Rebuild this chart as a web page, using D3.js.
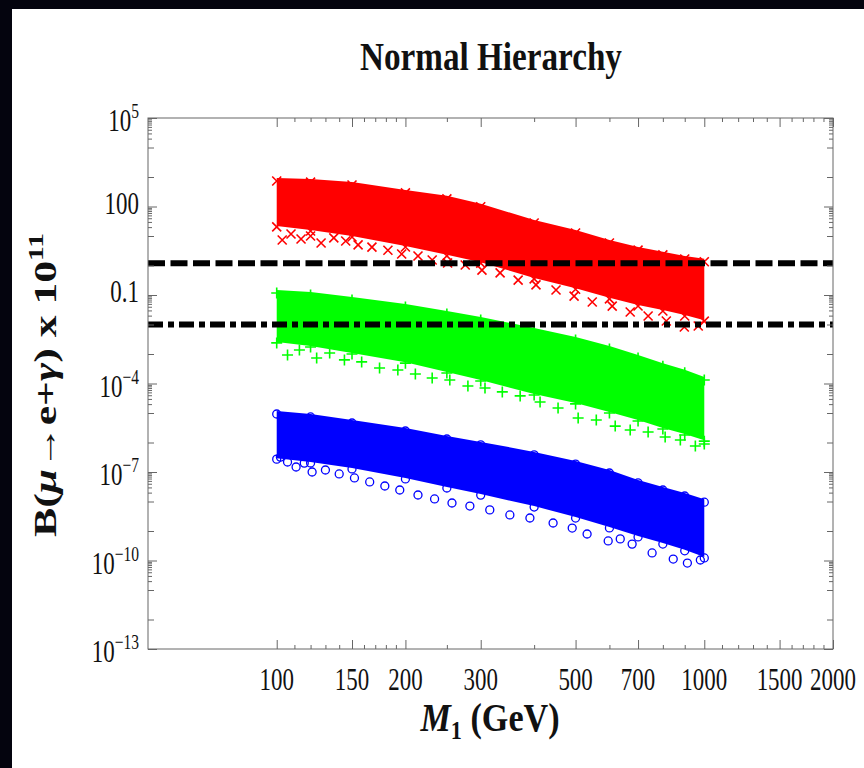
<!DOCTYPE html>
<html>
<head>
<meta charset="utf-8">
<script src="https://cdnjs.cloudflare.com/ajax/libs/d3/7.8.5/d3.min.js"></script>
<style>
  html, body { margin:0; background:#fff; overflow:hidden; }
  svg { display:block; }
  text { font-family:"Liberation Serif","Times New Roman",serif; fill:#111; }
</style>
</head>
<body>
<div id="chart"></div>
<script>
// masses (GeV) where the edges of each scan band were read
var massGrid = [100, 120, 150, 200, 250, 300, 400, 500, 600, 700, 800, 900, 1000];

// B(mu -> e gamma) x 10^11 : upper and lower edge of the dense band
var redUpper   = [925, 850, 675, 365, 230, 124, 35, 16, 7.3, 4.2, 2.9, 2.1, 1.7];
var redLower   = [22, 16, 10, 4.6, 2.3, 1.3, 0.38, 0.17, 0.08, 0.046, 0.031, 0.021, 0.014];
var greenUpper = [0.148, 0.126, 0.0855, 0.0495, 0.0288, 0.018, 0.0076, 0.0038, 0.00187, 9.3e-4, 4.9e-4, 2.9e-4, 1.66e-4];
var greenLower = [2.57e-3, 1.87e-3, 1.08e-3, 5.3e-4, 2.45e-4, 1.32e-4, 4.4e-5, 2.2e-5, 1.08e-5, 5.8e-6, 3.1e-6, 1.94e-6, 1.2e-6];
var blueUpper  = [1.17e-5, 9.3e-6, 5.8e-6, 3.1e-6, 1.66e-6, 1.05e-6, 4.8e-7, 2.35e-7, 1.17e-7, 5.4e-8, 3.1e-8, 1.94e-8, 1.2e-8];
var blueLower  = [2.95e-7, 2.18e-7, 1.37e-7, 6.3e-8, 3.1e-8, 1.78e-8, 7.0e-9, 2.97e-9, 1.37e-9, 6.8e-10, 3.9e-10, 2.3e-10, 1.32e-10];

// loose points hanging under each band
var redOutM   = [103, 108, 114, 120, 127, 136, 145, 155, 167, 182, 196, 214, 231, 251, 276, 302, 333, 367, 404, 450, 496, 547, 609, 671, 739, 815, 898, 968];
var redOutB   = [7.3, 11.7, 7.9, 10, 5.8, 8.6, 6.8, 5.0, 4.2, 3.3, 2.45, 2.1, 1.53, 1.22, 1.04, 0.70, 0.56, 0.32, 0.22, 0.148, 0.092, 0.058, 0.042, 0.0265, 0.0194, 0.0132, 0.0082, 0.0089];
var greenOutM = [106, 113, 124, 133, 144, 158, 174, 192, 211, 231, 254, 280, 307, 337, 371, 413, 455, 507, 559, 619, 671, 739, 810, 879, 953, 1000];
var greenOutB = [9.2e-4, 1.37e-3, 7.3e-4, 1.08e-3, 6.3e-4, 5.4e-4, 3.35e-4, 2.87e-4, 2.1e-4, 1.53e-4, 1.32e-4, 8.2e-5, 7.0e-5, 5.2e-5, 3.8e-5, 2.36e-5, 1.48e-5, 6.8e-6, 5.8e-6, 3.6e-6, 2.65e-6, 2.27e-6, 1.53e-6, 1.22e-6, 7.6e-7, 8.9e-7];
var blueOutM  = [102, 106, 111, 116, 121, 130, 140, 152, 165, 179, 194, 214, 234, 257, 283, 315, 351, 391, 443, 491, 532, 596, 636, 678, 755, 846, 913, 979];
var blueOutB  = [3.2e-7, 2.18e-7, 1.48e-7, 2.0e-7, 1.0e-7, 1.17e-7, 8.6e-8, 6.3e-8, 4.6e-8, 3.35e-8, 2.45e-8, 1.66e-8, 1.22e-8, 8.9e-9, 7.0e-9, 5.2e-9, 3.5e-9, 2.76e-9, 1.87e-9, 1.26e-9, 7.9e-10, 4.6e-10, 5.4e-10, 3.6e-10, 1.8e-10, 1.12e-10, 8.2e-11, 1.04e-10];

// experimental limits (x 10^11): present MEG bound, future sensitivity
var boundValues = [1.2, 0.01];

var xTickValues  = [100, 150, 200, 300, 500, 700, 1000, 1500, 2000];
var xMinorValues = [110, 120, 130, 140, 160, 170, 180, 190, 250, 400, 600, 800, 900, 1100, 1200, 1300, 1400, 1600, 1700, 1800, 1900];
var yTickExps    = [5, 2, -1, -4, -7, -10, -13];
var yTickLabels  = ["10^5", "100", "0.1", "10^-4", "10^-7", "10^-10", "10^-13"];

var W = 864, H = 768;
var L = 148, R = 833, T = 118, B = 649;

var svg = d3.select("#chart").append("svg").attr("width", W).attr("height", H);
svg.append("rect").attr("width", W).attr("height", H).attr("fill", "#fff");
// dark frame of the screenshot
svg.append("rect").attr("width", W).attr("height", 9).attr("fill", "#04040e");
svg.append("rect").attr("width", 12).attr("height", H).attr("fill", "#04040e");

var x = d3.scaleLog().domain([50, 2000]).range([L, R]);
var y = d3.scaleLog().domain([1e-13, 1e5]).range([B, T]);

svg.append("defs").append("clipPath").attr("id", "plotclip")
  .append("rect").attr("x", L).attr("y", T).attr("width", R - L).attr("height", B - T);

var plot = svg.append("g").attr("clip-path", "url(#plotclip)");

// --- scan bands ---
function bandRows(up, lo) {
  return massGrid.map(function(m, i) { return {m: m, hi: up[i], lo: lo[i]}; });
}
var area = d3.area()
  .x(function(d) { return x(d.m); })
  .y0(function(d) { return y(d.lo); })
  .y1(function(d) { return y(d.hi); });

var markPath = {
  cross: "M-4.5,-4.5L4.5,4.5M-4.5,4.5L4.5,-4.5",
  plus:  "M-5.5,0H5.5M0,-5.5V5.5"
};

function drawMarks(g, pts, color, kind) {
  if (kind == "circle") {
    g.selectAll("circle").data(pts).enter().append("circle")
      .attr("cx", function(d) { return x(d[0]); })
      .attr("cy", function(d) { return y(d[1]) + (d[2] || 0); })
      .attr("r", 4)
      .attr("fill", "none").attr("stroke", color).attr("stroke-width", 1.3);
  } else {
    g.selectAll("path").data(pts).enter().append("path")
      .attr("transform", function(d) { return "translate(" + x(d[0]) + "," + (y(d[1]) + (d[2] || 0)) + ")"; })
      .attr("d", markPath[kind])
      .attr("fill", "none").attr("stroke", color).attr("stroke-width", 1.6);
  }
}

function drawSeries(up, lo, outM, outB, color, kind) {
  var rows = bandRows(up, lo);
  plot.append("path").datum(rows).attr("d", area).attr("fill", color);

  // top marks tucked inside the band, bottom ones hang a little below it
  var pts = [];
  rows.forEach(function(r) { pts.push([r.m, r.hi, 3]); pts.push([r.m, r.lo, 1]); });
  outM.forEach(function(m, i) { pts.push([m, outB[i]]); });
  drawMarks(plot.append("g"), pts, color, kind);
}

drawSeries(redUpper, redLower, redOutM, redOutB, "#ff0000", "cross");
drawSeries(greenUpper, greenLower, greenOutM, greenOutB, "#00ff00", "plus");
drawSeries(blueUpper, blueLower, blueOutM, blueOutB, "#0000ff", "circle");

// --- limit lines ---
var boundDash = ["17,5.5", "15,5,6,5"];
plot.selectAll("line.bound").data(boundValues).enter().append("line")
  .attr("class", "bound")
  .attr("x1", L).attr("x2", R)
  .attr("y1", function(d) { return y(d); })
  .attr("y2", function(d) { return y(d); })
  .attr("stroke", "#000").attr("stroke-width", 6)
  .attr("stroke-dasharray", function(d, i) { return boundDash[i]; });

// --- frame and ticks ---
var yMinor = [], yMid = [];
yTickExps.forEach(function(e) {
  for (var k = 2; k <= 9; k++) yMinor.push(k * Math.pow(10, e - 1));
  yMid.push(Math.pow(10, e - 1), Math.pow(10, e - 2));
});
yMinor = yMinor.filter(function(v) { return v >= 1e-13; });
yMid = yMid.filter(function(v) { return v >= 1e-13; });

var tickCol = "#666";
function styleAxis(g) {
  g.select(".domain").remove();
  g.selectAll("line").attr("stroke", tickCol);
}
function addTicks(axisFn, scale, vals, size, tx, ty) {
  svg.append("g").attr("transform", "translate(" + tx + "," + ty + ")")
    .call(axisFn(scale).tickValues(vals).tickSize(-size).tickFormat(""))
    .call(styleAxis);
}
[[xTickValues, 9], [xMinorValues, 4]].forEach(function(p) {
  addTicks(d3.axisBottom, x, p[0], p[1], 0, B);
  addTicks(d3.axisTop, x, p[0], p[1], 0, T);
});
[[yTickExps.map(function(e) { return Math.pow(10, e); }), 9], [yMid, 6], [yMinor, 4]].forEach(function(p) {
  addTicks(d3.axisLeft, y, p[0], p[1], L, 0);
  addTicks(d3.axisRight, y, p[0], p[1], R, 0);
});

svg.append("rect").attr("x", L).attr("y", T).attr("width", R - L).attr("height", B - T)
  .attr("fill", "none").attr("stroke", tickCol).attr("stroke-width", 1);

// --- tick labels (the source picture is squeezed sideways) ---
var squeeze = 0.74;
svg.selectAll("text.xlab").data(xTickValues).enter().append("text")
  .attr("class", "xlab")
  .attr("transform", function(d) { return "translate(" + x(d) + ",690) scale(" + squeeze + ",1)"; })
  .attr("text-anchor", "middle")
  .attr("font-size", 31)
  .text(function(d) { return d; });

yTickExps.forEach(function(e, i) {
  var lab = yTickLabels[i];
  var parts = lab.split("^");
  var t = svg.append("text")
    .attr("transform", "translate(139," + (y(Math.pow(10, e)) + (parts.length > 1 ? 13 : 7)) + ") scale(" + squeeze + ",1)")
    .attr("text-anchor", "end")
    .attr("font-size", 31);
  t.append("tspan").text(parts[0]);
  if (parts.length > 1) {
    t.append("tspan").attr("dy", -13).attr("font-size", 21).text(parts[1].replace("-", "\u2212"));
  }
});

// fit a text horizontally into a given width, centred on cx
function fitWidth(t, w, cx, cy) {
  var bb = t.node().getBBox();
  t.attr("transform", "translate(" + cx + "," + cy + ") scale(" + (w / bb.width) + ",1)");
}

var title = svg.append("text").attr("text-anchor", "middle")
  .attr("font-size", 40).attr("font-weight", "bold").text("Normal Hierarchy");
fitWidth(title, 262, 491, 70);

var xl = svg.append("text").attr("text-anchor", "middle").attr("font-size", 40).attr("font-weight", "bold");
xl.append("tspan").attr("font-style", "italic").text("M");
xl.append("tspan").attr("font-size", 26).attr("dy", 8).text("1");
xl.append("tspan").attr("dy", -8).text(" (GeV)");
fitWidth(xl, 140, 490, 731);

// rotated y label: length along the axis stays, glyph height is squeezed
var yl = svg.append("text").attr("text-anchor", "middle").attr("font-size", 40).attr("font-weight", "bold");
yl.append("tspan").text("B(");
yl.append("tspan").attr("font-style", "italic").text("\u03bc");
yl.append("tspan").text("\u2192e+");
yl.append("tspan").attr("font-style", "italic").text("\u03b3");
yl.append("tspan").text(") x 10");
yl.append("tspan").attr("dy", -16).attr("font-size", 27).text("11");
var ylw = yl.node().getBBox().width;
var k = 304 / ylw;
yl.attr("transform", "translate(56,385) rotate(-90) scale(" + k + "," + (k * 0.72) + ")");
</script>
</body>
</html>
